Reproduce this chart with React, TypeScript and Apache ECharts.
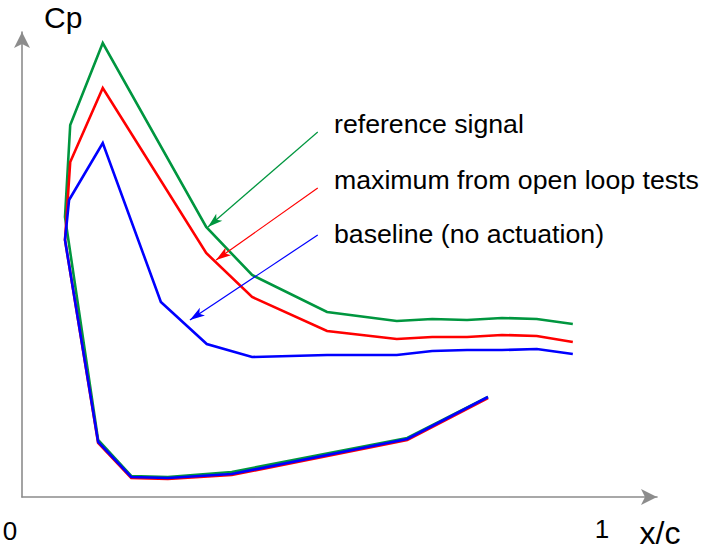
import React, { useEffect, useRef } from "react";
import * as echarts from "echarts";

// Chordwise stations (x/c) and pressure-coefficient values, traced from the
// trailing edge along the upper surface to the leading edge and back along
// the lower surface.
const refX = [0.948, 0.886, 0.826, 0.766, 0.706, 0.645, 0.525, 0.396, 0.317, 0.139, 0.083, 0.074, 0.131, 0.188, 0.251, 0.361, 0.663, 0.802];
const refCp = [1.73, 1.78, 1.79, 1.77, 1.78, 1.76, 1.85, 2.22, 2.70, 4.54, 3.72, 2.80, 0.57, 0.21, 0.20, 0.25, 0.59, 1.00];

const maxX = [0.948, 0.886, 0.826, 0.766, 0.706, 0.645, 0.525, 0.396, 0.317, 0.139, 0.083, 0.074, 0.131, 0.188, 0.251, 0.361, 0.663, 0.802];
const maxCp = [1.55, 1.61, 1.62, 1.60, 1.60, 1.58, 1.66, 2.00, 2.44, 4.09, 3.35, 2.57, 0.54, 0.19, 0.18, 0.22, 0.57, 0.99];

const baseX = [0.948, 0.886, 0.826, 0.766, 0.706, 0.645, 0.525, 0.396, 0.318, 0.239, 0.139, 0.081, 0.074, 0.131, 0.188, 0.251, 0.361, 0.663, 0.802];
const baseCp = [1.43, 1.48, 1.47, 1.47, 1.46, 1.42, 1.42, 1.40, 1.53, 1.95, 3.54, 2.97, 2.57, 0.55, 0.20, 0.19, 0.23, 0.58, 1.00];

// Annotation pointers: from the label towards the curve it names.
const refPointer = [[0.509, 3.65], [0.320, 2.70]];
const maxPointer = [[0.509, 3.09], [0.334, 2.37]];
const basePointer = [[0.509, 2.62], [0.289, 1.77]];

const seriesNames = ["reference signal", "maximum from open loop tests", "baseline (no actuation)"];
const seriesColors = ["#00963f", "#ff0000", "#0000ff"];

const FONT = "Liberation Sans, Arial, Helvetica, sans-serif";

function zip(xs: number[], ys: number[]) {
  return xs.map((x, i) => [x, ys[i]]);
}

function curve(name: string, color: string, xs: number[], ys: number[], pointer: number[][]) {
  return {
    name,
    type: "line",
    data: zip(xs, ys),
    showSymbol: false,
    symbol: "none",
    lineStyle: { color, width: 2.6, join: "miter" },
    itemStyle: { color },
    markLine: {
      silent: true,
      symbol: ["none", "arrow"],
      symbolSize: [7, 15],
      label: { show: false },
      lineStyle: { color, width: 1.2, type: "solid" },
      emphasis: { disabled: true },
      data: [[{ coord: pointer[0] }, { coord: pointer[1] }]],
    },
  };
}

export default function App() {
  const ref = useRef<HTMLDivElement>(null);

  useEffect(() => {
    if (!ref.current) return;
    const chart = echarts.init(ref.current, null, { renderer: "svg" });
    const axisLine = {
      show: true,
      symbol: ["none", "arrow"],
      symbolSize: [12, 16],
      lineStyle: { color: "#8c8c8c", width: 1.6 },
    };
    chart.setOption({
      animation: false,
      backgroundColor: "#ffffff",
      grid: { left: 22, right: 48, top: 32, bottom: 54 },
      xAxis: {
        type: "value",
        min: 0,
        max: 1.0929,
        axisLine,
        axisTick: { show: false },
        axisLabel: { show: false },
        splitLine: { show: false },
      },
      yAxis: {
        type: "value",
        min: 0,
        max: 4.65,
        axisLine,
        axisTick: { show: false },
        axisLabel: { show: false },
        splitLine: { show: false },
      },
      series: [
        curve(seriesNames[0], seriesColors[0], refX, refCp, refPointer),
        curve(seriesNames[1], seriesColors[1], maxX, maxCp, maxPointer),
        curve(seriesNames[2], seriesColors[2], baseX, baseCp, basePointer),
      ],
      graphic: [
        { type: "text", x: 44, y: 17, style: { text: "Cp", font: `30px ${FONT}`, fill: "#000", verticalAlign: "middle" } },
        { type: "text", x: 334, y: 124, style: { text: seriesNames[0], font: `26.7px ${FONT}`, fill: "#000", verticalAlign: "middle" } },
        { type: "text", x: 334, y: 180, style: { text: seriesNames[1], font: `26.7px ${FONT}`, fill: "#000", verticalAlign: "middle" } },
        { type: "text", x: 334, y: 234, style: { text: seriesNames[2], font: `26.7px ${FONT}`, fill: "#000", verticalAlign: "middle" } },
        { type: "text", x: 10, y: 531, style: { text: "0", font: `26px ${FONT}`, fill: "#000", align: "center", verticalAlign: "middle" } },
        { type: "text", x: 602, y: 529, style: { text: "1", font: `26px ${FONT}`, fill: "#000", align: "center", verticalAlign: "middle" } },
        { type: "text", x: 660, y: 533, style: { text: "x/c", font: `32px ${FONT}`, fill: "#000", align: "center", verticalAlign: "middle" } },
      ],
    });
    return () => chart.dispose();
  }, []);

  return (
    <div
      ref={ref}
      style={{ position: "fixed", left: 0, top: 0, width: 705, height: 551, background: "#fff" }}
    />
  );
}
